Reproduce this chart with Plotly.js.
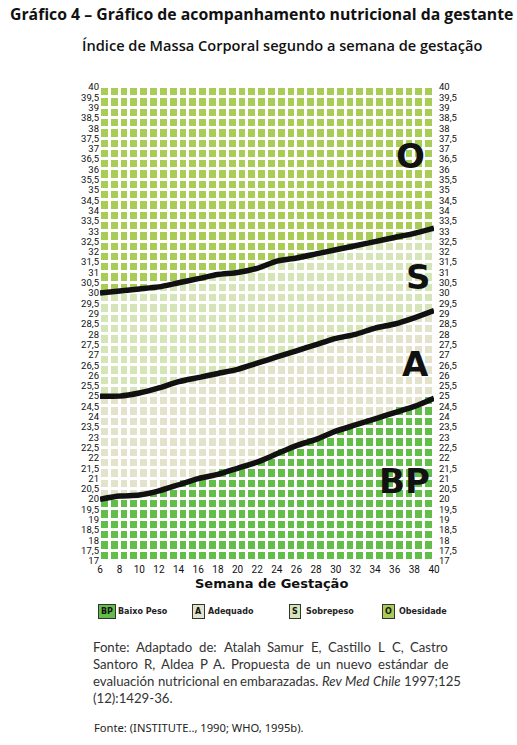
<!DOCTYPE html>
<html>
<head>
<meta charset="utf-8">
<script src="https://cdn.plot.ly/plotly-3.0.1.min.js"></script>
<style>
  html, body { margin: 0; padding: 0; background: #ffffff; }
  #chart { width: 517px; height: 745px; }
</style>
</head>
<body>
<div id="chart"></div>
<script>
// ---------- DATA ----------
const weeks = [6, 8, 10, 12, 14, 16, 18, 20, 22, 24, 26, 28, 30, 32, 34, 36, 38, 40];
// Upper limit of "Baixo Peso" (BP / A boundary)
const bpLimit = [20.0, 20.15, 20.2, 20.4, 20.7, 21.0, 21.2, 21.5, 21.8, 22.2, 22.6, 22.9, 23.3, 23.6, 23.9, 24.2, 24.5, 24.9];
// Upper limit of "Adequado" (A / S boundary)
const adLimit = [25.0, 25.0, 25.15, 25.4, 25.7, 25.9, 26.1, 26.3, 26.6, 26.9, 27.2, 27.5, 27.8, 28.0, 28.3, 28.5, 28.8, 29.15];
// Upper limit of "Sobrepeso" (S / O boundary)
const sbLimit = [30.0, 30.1, 30.2, 30.3, 30.5, 30.7, 30.9, 31.0, 31.2, 31.55, 31.7, 31.9, 32.1, 32.3, 32.5, 32.7, 32.9, 33.15];

const xTickVals = [6, 8, 10, 12, 14, 16, 18, 20, 22, 24, 26, 28, 30, 32, 34, 36, 38, 40];
const yTickVals = [17, 17.5, 18, 18.5, 19, 19.5, 20, 20.5, 21, 21.5, 22, 22.5, 23, 23.5, 24, 24.5, 25, 25.5, 26, 26.5, 27, 27.5, 28, 28.5, 29, 29.5, 30, 30.5, 31, 31.5, 32, 32.5, 33, 33.5, 34, 34.5, 35, 35.5, 36, 36.5, 37, 37.5, 38, 38.5, 39, 39.5, 40];
const yTickText = ["17", "17,5", "18", "18,5", "19", "19,5", "20", "20,5", "21", "21,5", "22", "22,5", "23", "23,5", "24", "24,5", "25", "25,5", "26", "26,5", "27", "27,5", "28", "28,5", "29", "29,5", "30", "30,5", "31", "31,5", "32", "32,5", "33", "33,5", "34", "34,5", "35", "35,5", "36", "36,5", "37", "37,5", "38", "38,5", "39", "39,5", "40"];

const categories = ["BP", "A", "S", "O"];
const categoryNames = ["Baixo Peso", "Adequado", "Sobrepeso", "Obesidade"];
const categoryColors = ["#62be48", "#e3e3cb", "#d5e5b7", "#a9cc57"];

// Source text, one array entry per printed line; segments marked italic
const srcLines = [
  [["Fonte: Adaptado de: Atalah Samur E, Castillo L C, Castro", false]],
  [["Santoro R, Aldea P A. Propuesta de un nuevo estándar de", false]],
  [["evaluación nutricional en embarazadas.", false], ["Rev Med Chile", true], ["1997;125", false]],
  [["(12):1429-36.", false]]
];
const bottomSource = "Fonte: (INSTITUTE.., 1990; WHO, 1995b).";

// ---------- LAYOUT HELPERS ----------
const W = 517, H = 745;
const M = { l: 100, r: 83, t: 87, b: 184 };
const plotW = W - M.l - M.r, plotH = H - M.t - M.b;
const px = x => (x - M.l) / plotW;          // pixel -> paper x
const py = y => (H - M.b - y) / plotH;      // pixel -> paper y

// ---------- CELL GRID (one square per week x 0.5 BMI) ----------
function interp(xs, ys, x) {
  for (let i = 0; i < xs.length - 1; i++) {
    if (x >= xs[i] && x <= xs[i + 1]) {
      const t = (x - xs[i]) / (xs[i + 1] - xs[i]);
      return ys[i] + t * (ys[i + 1] - ys[i]);
    }
  }
  return ys[ys.length - 1];
}
const xMin = xTickVals[0], xMax = xTickVals[xTickVals.length - 1];
const yMin = yTickVals[0], yMax = yTickVals[yTickVals.length - 1];
const colCenters = [], rowCenters = [];
for (let w = xMin; w < xMax; w += 1) colCenters.push(w + 0.5);
for (let b = yMin; b < yMax; b += 0.5) rowCenters.push(b + 0.25);
const z = rowCenters.map(yc => colCenters.map(xc => {
  if (yc < interp(weeks, bpLimit, xc)) return 0;
  if (yc < interp(weeks, adLimit, xc)) return 1;
  if (yc < interp(weeks, sbLimit, xc)) return 2;
  return 3;
}));

const cs = [
  [0, categoryColors[0]], [0.1666, categoryColors[0]],
  [0.1667, categoryColors[1]], [0.4999, categoryColors[1]],
  [0.5, categoryColors[2]], [0.8333, categoryColors[2]],
  [0.8334, categoryColors[3]], [1, categoryColors[3]]
];

const lineStyle = { color: "#111111", width: 5.5, shape: "spline", smoothing: 0.6 };
const traces = [
  {
    type: "heatmap", x: colCenters, y: rowCenters, z: z,
    colorscale: cs, zmin: 0, zmax: 3, showscale: false,
    xgap: 3, ygap: 3, hoverinfo: "skip", zsmooth: false
  },
  { type: "scatter", mode: "lines", x: weeks, y: bpLimit, line: lineStyle, yaxis: "y2", hoverinfo: "skip" },
  { type: "scatter", mode: "lines", x: weeks, y: adLimit, line: lineStyle, yaxis: "y2", hoverinfo: "skip" },
  { type: "scatter", mode: "lines", x: weeks, y: sbLimit, line: lineStyle, yaxis: "y2", hoverinfo: "skip" }
];

const tickFont = { family: "Roboto, 'DejaVu Sans', sans-serif", size: 9.5, color: "#111" };
const annotations = [];

// Titles
annotations.push({
  text: "Gráfico 4 – Gráfico de acompanhamento nutricional da gestante",
  xref: "paper", yref: "paper", x: px(8), y: py(14), xanchor: "left", yanchor: "middle",
  showarrow: false, font: { family: "'Open Sans', 'Noto Sans', sans-serif", size: 15.8, weight: 700, color: "#111" }
});
annotations.push({
  text: "Índice de Massa Corporal segundo a semana de gestação",
  xref: "paper", yref: "paper", x: px(80), y: py(45), xanchor: "left", yanchor: "middle",
  showarrow: false, font: { family: "'Open Sans', 'Noto Sans', sans-serif", size: 14.6, weight: 600, color: "#111" }
});

// Region letters
const letterPos = [[37.0, 20.9], [38.1, 26.55], [38.4, 30.8], [37.6, 36.65]];
categories.forEach((c, i) => {
  annotations.push({
    text: "<b>" + c + "</b>", xref: "x", yref: "y", x: letterPos[i][0], y: letterPos[i][1],
    showarrow: false, font: { family: "'DejaVu Sans', sans-serif", size: 34, color: "#111" }
  });
});

// X axis title
annotations.push({
  text: "<b>Semana de Gestação</b>", xref: "paper", yref: "paper", x: px(271), y: py(583),
  xanchor: "center", yanchor: "middle", showarrow: false, borderpad: 0,
  font: { family: "'DejaVu Sans', sans-serif", size: 13, color: "#111" }
});

// Legend
const legBox = [107, 198, 295, 388];
const legText = [116, 206, 304, 397];
categories.forEach((c, i) => {
  annotations.push({
    text: "<b>" + c + "</b>", xref: "paper", yref: "paper", x: px(legBox[i]), y: py(611),
    xanchor: "center", yanchor: "middle", showarrow: false,
    bgcolor: categoryColors[i], bordercolor: "#333", borderwidth: 1, borderpad: 2,
    font: { family: "'DejaVu Sans', sans-serif", size: 8, color: "#111" }
  });
  annotations.push({
    text: "<b>" + categoryNames[i] + "</b>", xref: "paper", yref: "paper", x: px(legText[i]), y: py(611),
    xanchor: "left", yanchor: "middle", showarrow: false,
    font: { family: "'DejaVu Sans', sans-serif", size: 8, color: "#222" }
  });
});

// Source text: one annotation per word, justified after measuring the rendered words
const srcFontSize = 13.2;
const srcFamily = "Lato, 'Noto Sans', sans-serif";
const srcLeft = 92, srcRight = 447;
const srcY = [647, 664, 681, 698];
const wordMeta = [];   // {idx, line, last}
srcLines.forEach((segs, li) => {
  const words = [];
  segs.forEach(([t, it]) => t.split(" ").forEach(w => words.push({ t: w, it: it })));
  words.forEach((w, wi) => {
    wordMeta.push({ idx: annotations.length, line: li, n: words.length });
    annotations.push({
      text: w.it ? "<i>" + w.t + "</i>" : w.t, xref: "paper", yref: "paper",
      x: px(srcLeft + wi * 30), y: py(srcY[li]),
      xanchor: "left", yanchor: "middle", showarrow: false, borderpad: 0,
      font: { family: srcFamily, size: srcFontSize, color: "#333" }
    });
  });
});
annotations.push({
  text: bottomSource, xref: "paper", yref: "paper", x: px(92), y: py(727),
  xanchor: "left", yanchor: "middle", showarrow: false,
  font: { family: "'Noto Sans', 'Open Sans', sans-serif", size: 11.2, color: "#222" }
});

const layout = {
  width: W, height: H,
  margin: M,
  paper_bgcolor: "#ffffff", plot_bgcolor: "#ffffff",
  showlegend: false,
  xaxis: {
    range: [xMin, xMax], tickvals: xTickVals, ticks: "", showgrid: false, zeroline: false,
    showline: false, tickfont: Object.assign({}, tickFont, { size: 10 }), fixedrange: true,
    ticklabelstandoff: 1
  },
  yaxis: {
    range: [yMin, yMax], tickvals: yTickVals, ticktext: yTickText, ticks: "", showgrid: false,
    zeroline: false, showline: false, tickfont: tickFont, fixedrange: true
  },
  yaxis2: {
    range: [yMin, yMax], tickvals: yTickVals, ticktext: yTickText, ticks: "", showgrid: false,
    zeroline: false, showline: false, tickfont: tickFont, overlaying: "y", side: "right", fixedrange: true,
    ticklabelstandoff: 4
  },
  annotations: annotations
};

Plotly.newPlot("chart", traces, layout, { staticPlot: true, displayModeBar: false }).then(gd => {
  const texts = {};
  gd.querySelectorAll("g.annotation").forEach(g => {
    const i = +g.getAttribute("data-index");
    const t = g.querySelector("text.annotation-text");
    if (t) texts[i] = t.getComputedTextLength();
  });
  const spaceW = srcFontSize * 0.26;
  const update = {};
  srcLines.forEach((_, li) => {
    const ws = wordMeta.filter(m => m.line === li);
    const widths = ws.map(m => texts[m.idx] || 0);
    const total = widths.reduce((a, b) => a + b, 0);
    const last = li === srcLines.length - 1;
    const gap = (last || ws.length < 2) ? spaceW : Math.max(spaceW, (srcRight - srcLeft - total) / (ws.length - 1));
    let x = srcLeft;
    ws.forEach((m, k) => {
      update["annotations[" + m.idx + "].x"] = px(x);
      x += widths[k] + gap;
    });
  });
  return Plotly.relayout(gd, update);
});
</script>
</body>
</html>
